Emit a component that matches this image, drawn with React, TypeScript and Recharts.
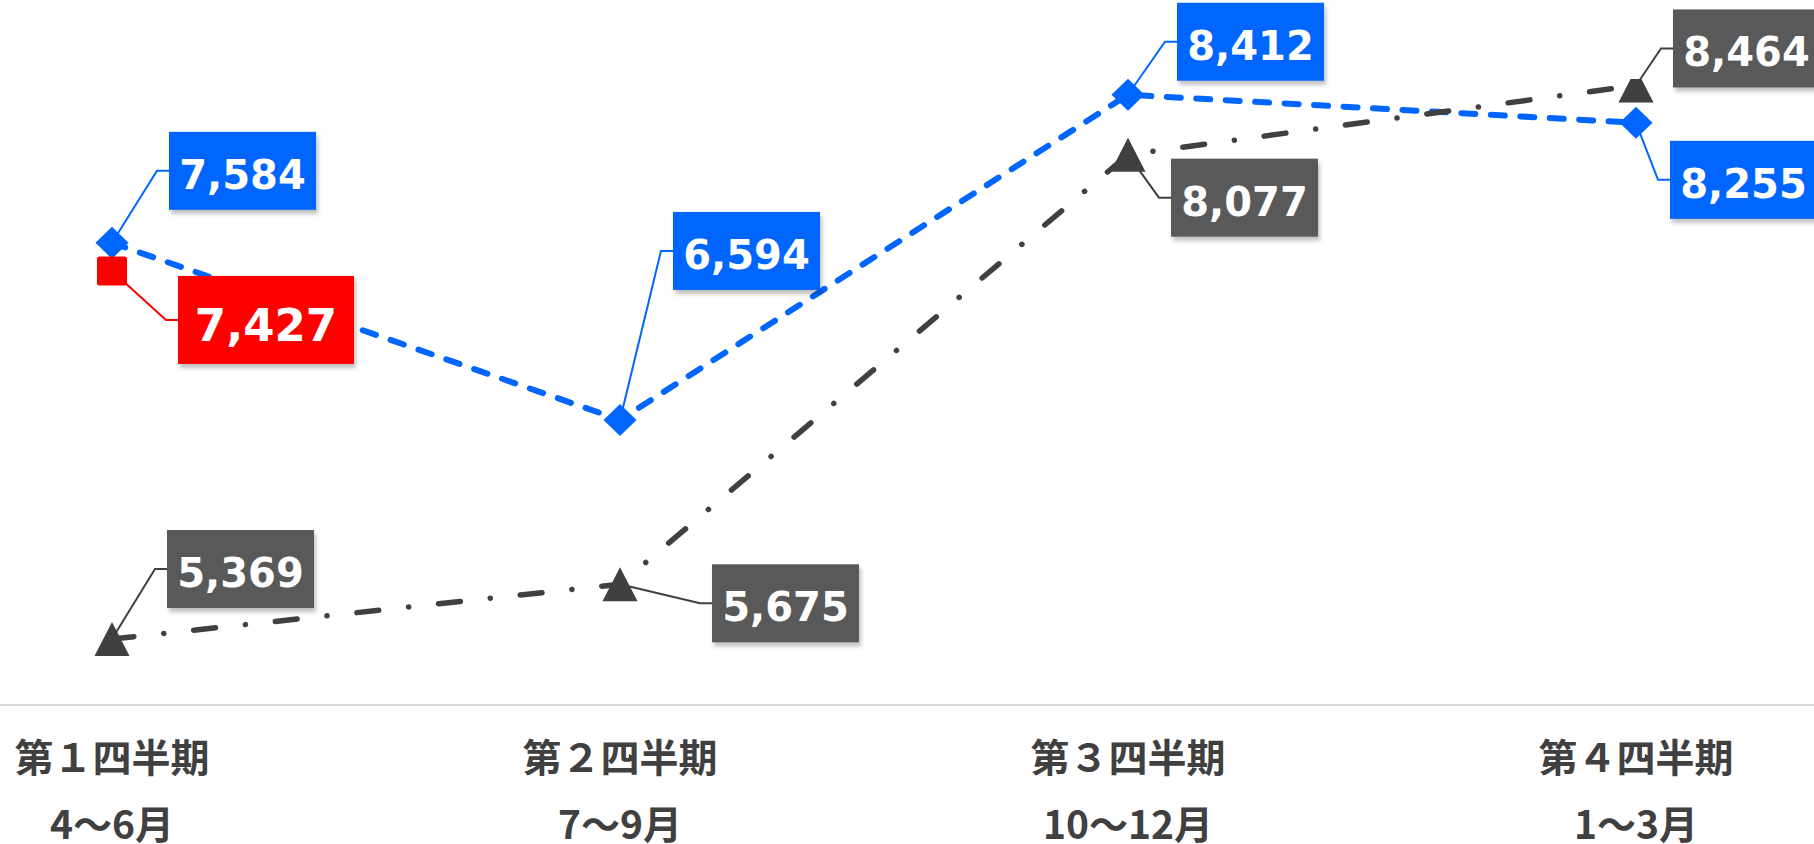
import { LineChart, Line, XAxis, YAxis, LabelList } from 'recharts';

// quarters and their month ranges (two-line tick labels)
const quarters = ['第１四半期', '第２四半期', '第３四半期', '第４四半期'];
const months = ['4～6月', '7～9月', '10～12月', '1～3月'];

// series values
const blueValues = [7584, 6594, 8412, 8255];
const redValues = [7427, null, null, null];
const greyValues = [5369, 5675, 8077, 8464];

const chartData = quarters.map((q, i) => ({
    q,
    blue: blueValues[i],
    red: redValues[i],
    grey: greyValues[i],
}));

// callout placement: elbow offset from each point (layout only)
const blueCallouts = [[45, -72], [41, -169], [37, -53], [22, 57]];
const redCallouts = [[54, 49], [0, 0], [0, 0], [0, 0]];
const greyCallouts = [[43, -70], [80, 19], [31, 43], [25, -37]];

const BLUE = '#0066FF';
const RED = '#FF0000';
const GREY_LINE = '#404040';
const GREY_BOX = '#595959';

const makeCallout = (boxColor: string, lineColor: string, offsets: number[][], big = false) => (props: any) => {
    const x = props.x ?? props.viewBox?.x;
    const y = props.y ?? props.viewBox?.y;
    const { value, index } = props;
    if (value == null || x == null || y == null) return null;
    const [ox, oy] = offsets[index];
    const w = big ? 176 : 147;
    const h = big ? 88 : 78;
    const ex = x + ox;
    const ey = y + oy;
    const bx = ex + 12;
    return (
        <g>
            <polyline points={`${x},${y} ${ex},${ey} ${bx},${ey}`} fill="none" stroke={lineColor} strokeWidth={2} />
            <rect
                x={bx}
                y={ey - h / 2}
                width={w}
                height={h}
                fill={boxColor}
                style={{ filter: 'drop-shadow(2px 4px 2px rgba(0,0,0,0.25))' }}
            />
            <text
                x={bx + w / 2}
                y={ey + (big ? 21 : 18)}
                textAnchor="middle"
                fill="#ffffff"
                fontFamily="'DejaVu Sans', Verdana, sans-serif"
                fontWeight="bold"
                fontSize={big ? 45 : 40}
            >
                {Number(value).toLocaleString('en-US')}
            </text>
        </g>
    );
};

const Diamond = (p: any) => {
    if (p.cy == null || p.value == null) return <g key={`dm-${p.index}`} />;
    const { cx, cy } = p;
    return (
        <path
            key={`dm-${p.index}`}
            d={`M${cx},${cy - 16}L${cx + 16.5},${cy}L${cx},${cy + 16}L${cx - 16.5},${cy}Z`}
            fill={BLUE}
        />
    );
};

const Triangle = (p: any) => {
    if (p.cy == null || p.value == null) return <g key={`tr-${p.index}`} />;
    const { cx, cy } = p;
    return (
        <path
            key={`tr-${p.index}`}
            d={`M${cx},${cy - 17}L${cx + 17.5},${cy + 17}L${cx - 17.5},${cy + 17}Z`}
            fill={GREY_LINE}
            strokeLinejoin="round"
        />
    );
};

const Square = (p: any) => {
    if (p.cy == null || p.value == null) return <g key={`sq-${p.index}`} />;
    const { cx, cy } = p;
    return <rect key={`sq-${p.index}`} x={cx - 15} y={cy - 14.5} width={30} height={29} rx={2} fill={RED} />;
};

const QuarterTick = (props: any) => {
    const { x, y, payload, index } = props;
    const i = payload?.index ?? index;
    const common = {
        x,
        textAnchor: 'middle' as const,
        dominantBaseline: 'central' as const,
        fill: '#404040',
        fontFamily: "'Noto Sans CJK JP', sans-serif",
        fontWeight: 700,
        fontSize: 39,
    };
    return (
        <g>
            <text {...common} y={y + 50}>{payload.value}</text>
            <text {...common} y={y + 117}>{months[i]}</text>
        </g>
    );
};

export default function App() {
    return (
        <div style={{ position: 'absolute', left: 0, top: 0, width: 1814, height: 844, background: '#ffffff' }}>
            <LineChart width={1814} height={844} data={chartData} margin={{ top: 79, right: 0, bottom: 0, left: 0 }}>
                <XAxis
                    dataKey="q"
                    scale="point"
                    padding={{ left: 112, right: 178 }}
                    interval={0}
                    height={139}
                    tickLine={false}
                    tickSize={0}
                    tickMargin={0}
                    axisLine={{ stroke: '#D9D9D9', strokeWidth: 2 }}
                    tick={<QuarterTick />}
                />
                <YAxis type="number" domain={[5000, 8500]} hide allowDataOverflow />
                <Line
                    type="linear"
                    dataKey="blue"
                    stroke={BLUE}
                    strokeWidth={6}
                    strokeDasharray="14 15.5"
                    strokeLinecap="round"
                    dot={Diamond}
                    activeDot={false}
                    isAnimationActive={false}
                >
                    <LabelList dataKey="blue" content={makeCallout(BLUE, BLUE, blueCallouts)} />
                </Line>
                <Line
                    type="linear"
                    dataKey="grey"
                    stroke={GREY_LINE}
                    strokeWidth={5.5}
                    strokeDasharray="22 30 0.1 30"
                    strokeLinecap="round"
                    dot={Triangle}
                    activeDot={false}
                    isAnimationActive={false}
                >
                    <LabelList dataKey="grey" content={makeCallout(GREY_BOX, GREY_LINE, greyCallouts)} />
                </Line>
                <Line
                    type="linear"
                    dataKey="red"
                    stroke={RED}
                    strokeWidth={2}
                    dot={Square}
                    activeDot={false}
                    connectNulls={false}
                    isAnimationActive={false}
                >
                    <LabelList dataKey="red" content={makeCallout(RED, RED, redCallouts, true)} />
                </Line>
            </LineChart>
        </div>
    );
}
